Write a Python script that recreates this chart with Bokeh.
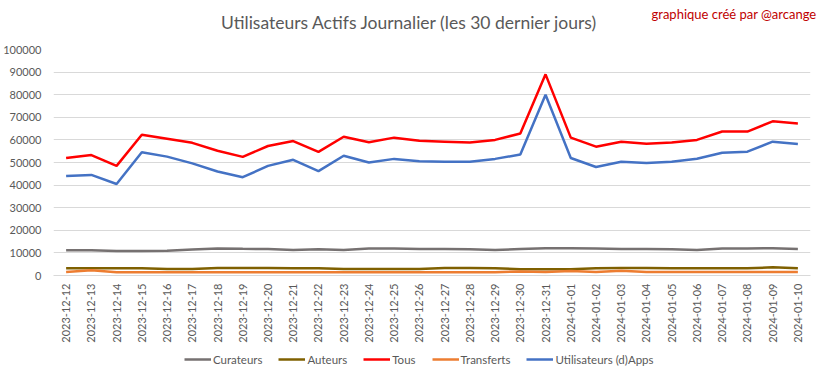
import math
from bokeh.plotting import figure
from bokeh.layouts import column
from bokeh.core.properties import value
from bokeh.models import Legend, LegendItem, Range1d, SingleIntervalTicker, NumeralTickFormatter
from bokeh.embed import file_html
from bokeh.resources import INLINE

dates = ["2023-12-12", "2023-12-13", "2023-12-14", "2023-12-15", "2023-12-16", "2023-12-17",
         "2023-12-18", "2023-12-19", "2023-12-20", "2023-12-21", "2023-12-22", "2023-12-23",
         "2023-12-24", "2023-12-25", "2023-12-26", "2023-12-27", "2023-12-28", "2023-12-29",
         "2023-12-30", "2023-12-31", "2024-01-01", "2024-01-02", "2024-01-03", "2024-01-04",
         "2024-01-05", "2024-01-06", "2024-01-07", "2024-01-08", "2024-01-09", "2024-01-10"]

curateurs = [11200, 11200, 10800, 10800, 10900, 11500, 12000, 11800, 11700, 11300,
             11600, 11300, 12000, 12000, 11700, 11700, 11600, 11300, 11700, 12100,
             12100, 12000, 11700, 11700, 11600, 11300, 12000, 12000, 12100, 11700]
auteurs = [3200, 3200, 3200, 3200, 2900, 2900, 3300, 3300, 3300, 3200,
           3200, 2900, 2900, 2900, 2900, 3300, 3300, 3200, 2800, 2800,
           2800, 3200, 3300, 3300, 3200, 3200, 3200, 3200, 3600, 3200]
tous = [52000, 53300, 48500, 62300, 60500, 58700, 55200, 52500, 57300, 59500,
        54700, 61400, 59000, 61000, 59600, 59200, 58800, 60000, 62800, 89000,
        61000, 57000, 59200, 58300, 58800, 60000, 63700, 63700, 68200, 67300]
transferts = [1500, 2300, 1400, 1400, 1400, 1400, 1400, 1400, 1400, 1400,
              1400, 1400, 1400, 1400, 1400, 1400, 1400, 1400, 1800, 1500,
              2000, 1600, 2100, 1500, 1500, 1500, 1500, 1500, 1500, 1500]
apps = [44000, 44500, 40500, 54500, 52600, 49600, 46000, 43500, 48500, 51200,
        46200, 53000, 50000, 51600, 50600, 50300, 50300, 51600, 53500, 80000,
        52000, 48000, 50300, 49800, 50300, 51700, 54300, 54800, 59200, 58200]

title_text = "Utilisateurs Actifs Journalier (les 30 dernier jours)"
credit_text = "graphique créé par @arcange"

series = [("Curateurs", curateurs, "#767171"),
          ("Auteurs", auteurs, "#7F6000"),
          ("Tous", tous, "#FF0000"),
          ("Transferts", transferts, "#ED7D31"),
          ("Utilisateurs (d)Apps", apps, "#4472C4")]

FONT = "Lato"
TXT = "#595959"
W = 817

# ---- header with title and credit ----
head = figure(width=W, height=41, x_range=Range1d(0, W), y_range=Range1d(0, 41),
              output_backend="svg", toolbar_location=None, frame_align=False,
              x_axis_location=None, y_axis_location=None,
              min_border_left=0, min_border_right=0, min_border_top=0, min_border_bottom=0)
head.outline_line_color = None
head.grid.visible = False
head.text(x=[409], y=[19], text=[title_text], text_font=value(FONT), text_font_size="17.5px",
          text_color=TXT, text_align="center", text_baseline="middle")
head.text(x=[816], y=[28], text=[credit_text], text_font=value(FONT), text_font_size="13px",
          text_color="#C00000", text_align="right", text_baseline="middle")

# ---- main chart ----
p = figure(x_range=dates, y_range=Range1d(0, 100000), width=W, height=304,
           output_backend="svg", toolbar_location=None, frame_align=False,
           min_border_left=49, min_border_right=7, min_border_top=8, min_border_bottom=66)
p.outline_line_color = None

for name, vals, col in series:
    p.line(dates, vals, line_color=col, line_width=2.5)

p.yaxis.ticker = SingleIntervalTicker(interval=10000)
p.yaxis.formatter = NumeralTickFormatter(format="0")
p.yaxis.axis_line_color = None
p.yaxis.major_tick_line_color = None
p.yaxis.minor_tick_line_color = None
p.yaxis.major_label_text_font = FONT
p.yaxis.major_label_text_font_size = "11px"
p.yaxis.major_label_text_color = TXT
p.yaxis.major_label_standoff = 6

p.xaxis.axis_line_color = "#D9D9D9"
p.xaxis.major_tick_line_color = None
p.xaxis.minor_tick_line_color = None
p.xaxis.major_label_orientation = math.pi / 2
p.xaxis.major_label_text_font = FONT
p.xaxis.major_label_text_font_size = "11px"
p.xaxis.major_label_text_color = TXT
p.xaxis.major_label_standoff = 2

p.xgrid.grid_line_color = None
p.ygrid.grid_line_color = "#D9D9D9"
p.ygrid.grid_line_width = 1

# ---- legend strip ----
leg = figure(x_range=dates, y_range=Range1d(-2, -1), width=W, height=30,
             output_backend="svg", toolbar_location=None, frame_align=False,
             x_axis_location=None, y_axis_location=None,
             min_border_left=0, min_border_right=0, min_border_top=0, min_border_bottom=0)
leg.outline_line_color = None
leg.grid.visible = False
items = []
for name, vals, col in series:
    r = leg.line(dates, vals, line_color=col, line_width=2.5)
    items.append(LegendItem(label=name, renderers=[r]))
legend = Legend(items=items, orientation="horizontal", location=(184, 9),
                label_text_font=FONT, label_text_font_size="11.5px", label_text_color=TXT,
                glyph_width=27, glyph_height=14, label_height=14, spacing=16, label_standoff=2,
                padding=0, margin=0, border_line_color=None, background_fill_alpha=0)
leg.add_layout(legend, "center")

layout = column(head, p, leg, spacing=0)
open("out.html", "w").write(file_html(layout, INLINE))
